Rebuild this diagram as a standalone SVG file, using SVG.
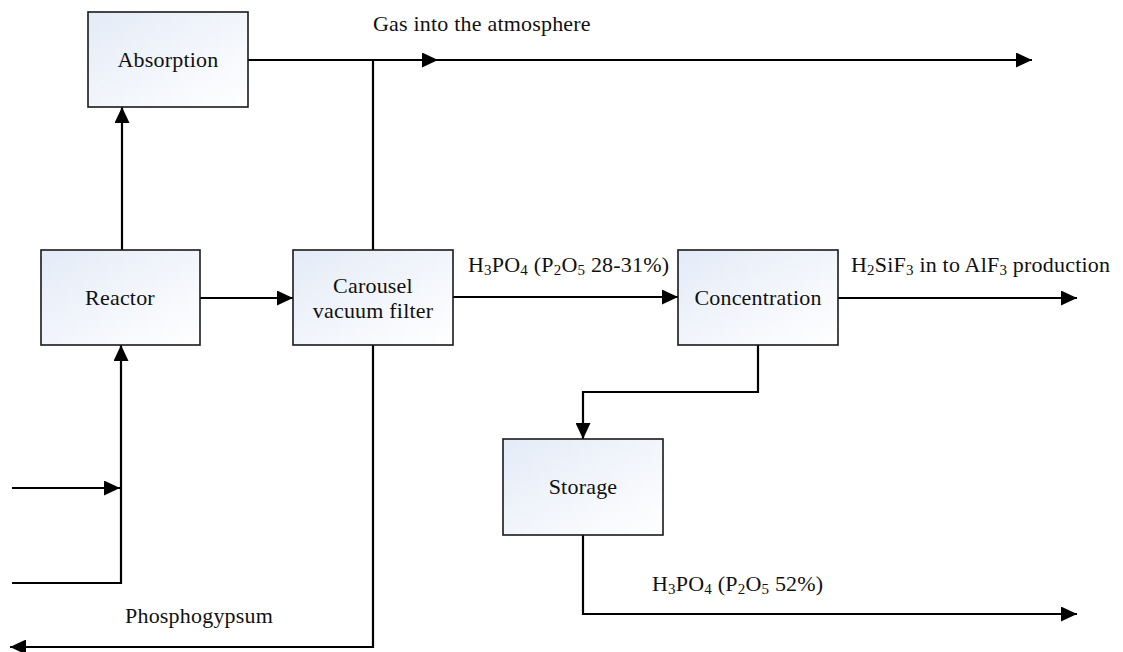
<svg xmlns="http://www.w3.org/2000/svg" width="1123" height="652" viewBox="0 0 1123 652">
  <defs>
    <linearGradient id="boxFill" x1="0" y1="0" x2="1" y2="1">
      <stop offset="0" stop-color="#e4ebf7"/>
      <stop offset="1" stop-color="#ffffff"/>
    </linearGradient>
    <marker id="arrow" markerUnits="userSpaceOnUse" markerWidth="17" markerHeight="15" refX="16" refY="7.5" orient="auto">
      <path d="M0,0 L16,7.5 L0,15 z" fill="#000"/>
    </marker>
    <style>
      .box { fill: url(#boxFill); stroke: #1a1a1a; stroke-width: 1.6; }
      .label { font-family: 'Liberation Serif', 'Times New Roman', 'DejaVu Serif', serif; font-size: 22px; letter-spacing: 0.2px; fill: #111; }
      .mid { text-anchor: middle; }
      .sub { font-size: 15px; }
      .flow { fill: none; stroke: #000; stroke-width: 2.2; }
      .arr { marker-end: url(#arrow); }
    </style>
  </defs>
  <rect width="1123" height="652" fill="#fff"/>

  <g id="connectors">
    <path class="flow arr" d="M122,250 V107"/>
    <path class="flow arr" d="M200,298 H293"/>
    <path class="flow arr" d="M248,60 H438"/>
    <path class="flow" d="M373,250 V60"/>
    <path class="flow arr" d="M436,60 H1032"/>
    <path class="flow arr" d="M453,297 H678"/>
    <path class="flow arr" d="M838,298 H1077"/>
    <path class="flow arr" d="M758,345 V392 H583 V439"/>
    <path class="flow arr" d="M583,535 V614 H1077"/>
    <path class="flow arr" d="M373,345 V647 H10"/>
    <path class="flow arr" d="M12,488 H120"/>
    <path class="flow arr" d="M12,583 H121 V345"/>
  </g>

  <g id="absorption">
    <rect class="box" x="88" y="12" width="160" height="95"/>
    <text class="label mid" x="168" y="67">Absorption</text>
  </g>
  <g id="reactor">
    <rect class="box" x="41" y="250" width="159" height="95"/>
    <text class="label mid" x="120" y="305">Reactor</text>
  </g>
  <g id="carousel-filter">
    <rect class="box" x="293" y="250" width="160" height="95"/>
    <text class="label mid" x="373" y="293">Carousel</text>
    <text class="label mid" x="373" y="318">vacuum filter</text>
  </g>
  <g id="concentration">
    <rect class="box" x="678" y="250" width="160" height="95"/>
    <text class="label mid" x="758" y="305">Concentration</text>
  </g>
  <g id="storage">
    <rect class="box" x="503" y="439" width="160" height="96"/>
    <text class="label mid" x="583" y="494">Storage</text>
  </g>

  <g id="flow-labels">
    <text class="label" x="373" y="31">Gas into the atmosphere</text>
    <text class="label" x="468" y="272">H<tspan class="sub" dy="3">3</tspan><tspan dy="-3">PO</tspan><tspan class="sub" dy="3">4</tspan><tspan dy="-3"> (P</tspan><tspan class="sub" dy="3">2</tspan><tspan dy="-3">O</tspan><tspan class="sub" dy="3">5</tspan><tspan dy="-3"> 28-31%)</tspan></text>
    <text class="label" x="851" y="272">H<tspan class="sub" dy="3">2</tspan><tspan dy="-3">SiF</tspan><tspan class="sub" dy="3">3</tspan><tspan dy="-3"> in to AlF</tspan><tspan class="sub" dy="3">3</tspan><tspan dy="-3"> production</tspan></text>
    <text class="label" x="125" y="623">Phosphogypsum</text>
    <text class="label" x="652" y="591">H<tspan class="sub" dy="3">3</tspan><tspan dy="-3">PO</tspan><tspan class="sub" dy="3">4</tspan><tspan dy="-3"> (P</tspan><tspan class="sub" dy="3">2</tspan><tspan dy="-3">O</tspan><tspan class="sub" dy="3">5</tspan><tspan dy="-3"> 52%)</tspan></text>
  </g>
</svg>
